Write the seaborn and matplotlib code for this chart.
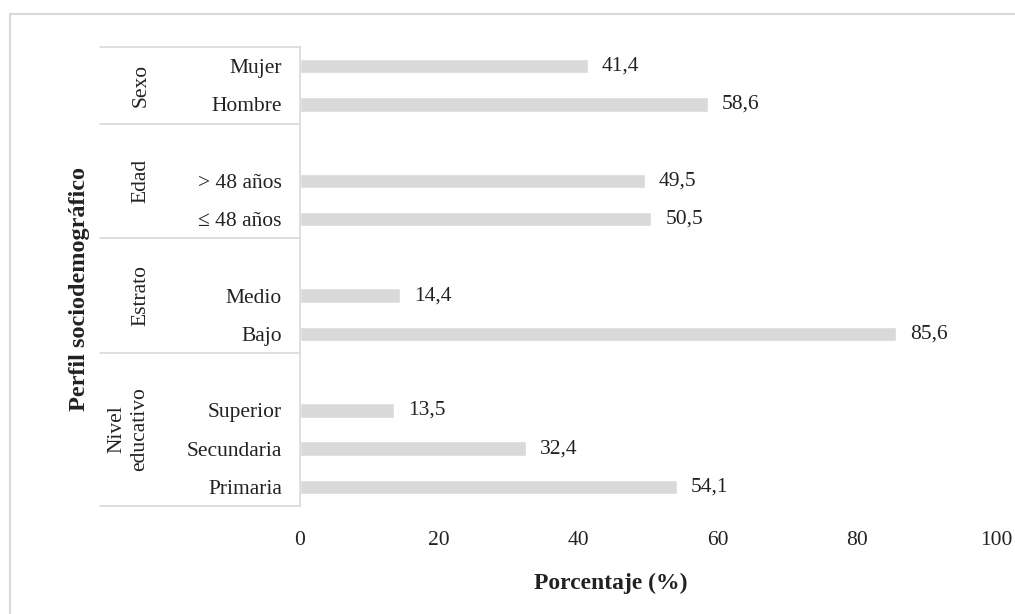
import matplotlib
matplotlib.use('Agg')
import matplotlib.pyplot as plt
import matplotlib.transforms as mtransforms
from matplotlib.patches import Rectangle
import pandas as pd
import seaborn as sns

# Data (top to bottom, blanks are gap slots)
categories = ['Mujer', 'Hombre', ' ', '> 48 años', '≤ 48 años', '  ',
              'Medio', 'Bajo', '   ', 'Superior', 'Secundaria', 'Primaria']
items = ['Mujer', 'Hombre', '> 48 años', '≤ 48 años',
         'Medio', 'Bajo', 'Superior', 'Secundaria', 'Primaria']
values = [41.4, 58.6, 49.5, 50.5, 14.4, 85.6, 13.5, 32.4, 54.1]
groups = ['Sexo', 'Edad', 'Estrato', 'Nivel\neducativo']
group_centers = [0.5, 3, 6, 9.5]
group_edges = [-0.5, 1.5, 4.5, 7.5, 11.5]
x_ticks = [0, 20, 40, 60, 80, 100]

df = pd.DataFrame({'item': items, 'value': values})

sns.set_style('white')
plt.rcParams['font.family'] = ['Liberation Serif', 'DejaVu Serif']
text_color = '#222222'
line_color = '#d9d9d9'
fs = 15.5

fig = plt.figure(figsize=(10.15, 6.14), dpi=100)
ax = fig.add_axes([300 / 1015, 1 - 506 / 614, 696 / 1015, 459 / 614])

sns.barplot(data=df, x='value', y='item', order=categories, color='#d9d9d9',
            width=0.38, saturation=1, ax=ax)

ax.set_xlim(0, 100)
ax.set_ylim(11.5, -0.5)
ax.set_xticks(x_ticks)
ax.set_xticklabels([str(t) for t in x_ticks])
ax.tick_params(axis='x', length=0, pad=18, labelsize=fs, labelcolor=text_color)
ax.tick_params(axis='y', length=0, pad=13, labelsize=fs, labelcolor=text_color)
ax.set_xlabel('')
ax.set_ylabel('')

for side in ['top', 'right', 'bottom']:
    ax.spines[side].set_visible(False)
ax.spines['left'].set_color(line_color)
ax.spines['left'].set_linewidth(1.2)

# value labels
for cont in ax.containers:
    labs = [('%.1f' % v).replace('.', ',') if v == v else '' for v in cont.datavalues]
    ax.bar_label(cont, labels=labs, padding=10, fontsize=fs, color=text_color)

# group separators and group labels
trans = mtransforms.blended_transform_factory(ax.transAxes, ax.transData)
x_left = (100 - 300) / 696
for e in group_edges:
    ax.plot([x_left, 0], [e, e], transform=trans, color=line_color, lw=1.2, clip_on=False)
for g, c in zip(groups, group_centers):
    xc = 128 if '\n' in g else 141
    ax.text((xc - 300) / 696, c, g, transform=trans, rotation=90, ha='center', va='center',
            fontsize=fs, color=text_color, linespacing=1.25)

fig.text(79 / 1015, 1 - 289 / 614, 'Perfil sociodemográfico', rotation=90,
         ha='center', va='center', fontsize=17.5, fontweight='bold', color=text_color)
fig.text(611 / 1015, 1 - 583 / 614, 'Porcentaje (%)',
         ha='center', va='center', fontsize=17, fontweight='bold', color=text_color)

# light outer frame
fig.patches.append(Rectangle((10 / 1015, -0.1), 1.2, 1.1 - 14 / 614, transform=fig.transFigure,
                             fill=False, edgecolor=line_color, lw=1.5))

fig.savefig('out.png', dpi=100)
